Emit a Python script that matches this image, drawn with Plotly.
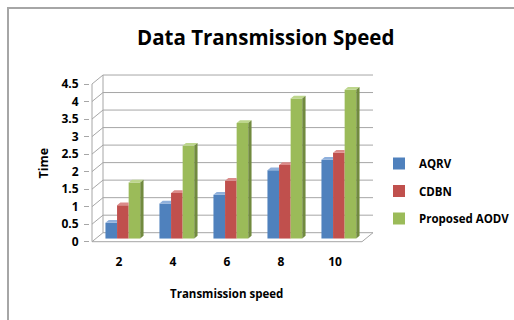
import plotly.graph_objects as go

# ---- data -------------------------------------------------------------
categories = ["2", "4", "6", "8", "10"]
series_names = ["AQRV", "CDBN", "Proposed AODV"]
aqrv = [0.45, 1.0, 1.25, 1.95, 2.25]
cdbn = [0.95, 1.3, 1.65, 2.1, 2.45]
proposed_aodv = [1.6, 2.65, 3.3, 4.0, 4.25]
y_ticks = [0, 0.5, 1, 1.5, 2, 2.5, 3, 3.5, 4, 4.5]
y_tick_labels = ["0", "0.5", "1", "1.5", "2", "2.5", "3", "3.5", "4", "4.5"]

series_values = [aqrv, cdbn, proposed_aodv]

# ---- styling ----------------------------------------------------------
front_colors = ["#4F81BD", "#C0504D", "#9BBB59"]
top_colors = ["#8FB0DC", "#DB8B89", "#BDD68C"]
side_colors = ["#3A6394", "#933C3A", "#718A3F"]
GRID = "#A6A6A6"
FONT = "Open Sans"

W, H = 514, 320
PX_PER_CAT = 54.0      # horizontal pixels per category
PX_PER_UNIT = 35.04    # vertical pixels per value unit
L, R, T, B = 90, 140, 73, 76
plot_w = W - L - R
plot_h = H - T - B
X0 = -0.5 - 2 / PX_PER_CAT
X1 = X0 + plot_w / PX_PER_CAT
ZERO_PX = 241.7
Y0 = -(H - B - ZERO_PX) / PX_PER_UNIT
Y1 = Y0 + plot_h / PX_PER_UNIT

# oblique depth of the 3-D box (data units)
DX = 11 / PX_PER_CAT
DY = 9 / PX_PER_UNIT
FRONT, BACK = 0.35, 0.65   # depth of the column front / back faces
BAR_W = 11.6 / PX_PER_CAT
GROUP_W = BAR_W * len(series_names)


def pxx(px):
    return (px - L) / plot_w


def pxy(py):
    return (H - B - py) / plot_h


n = len(categories)
xl, xr = -0.5, n - 0.5

# ---- walls, floor and gridlines ---------------------------------------
shapes = []


def wall_line(x0, y0, x1, y1):
    shapes.append(dict(type="line", xref="x", yref="y", x0=x0, y0=y0, x1=x1, y1=y1,
                       line=dict(color=GRID, width=1), layer="below"))


for t in y_ticks:
    wall_line(xl + DX, t + DY, xr + DX, t + DY)   # back wall
    wall_line(xl, t, xl + DX, t + DY)             # side wall
wall_line(xl + DX, DY, xl + DX, y_ticks[-1] + DY)  # back corner
wall_line(xl, 0, xl, y_ticks[-1])                  # front value axis
wall_line(xl, 0, xr, 0)                            # floor front edge
wall_line(xr, 0, xr + DX, DY)                      # floor right edge

# chart-area border
shapes.append(dict(type="rect", xref="paper", yref="paper",
                   x0=pxx(8), x1=pxx(530), y0=pxy(330), y1=pxy(8),
                   line=dict(color="#A6A6A6", width=2), fillcolor="rgba(0,0,0,0)"))

fig = go.Figure()

# ---- 3-D columns ------------------------------------------------------
last = len(series_names) - 1
for k, (name, vals) in enumerate(zip(series_names, series_values)):
    lefts = [i - GROUP_W / 2 + k * BAR_W for i in range(n)]
    fig.add_bar(
        x=[lft + BAR_W / 2 + FRONT * DX for lft in lefts],
        y=vals,
        base=[FRONT * DY] * n,
        width=BAR_W,
        name=name,
        legendgroup=name,
        marker=dict(color=front_colors[k], line=dict(width=0)),
    )

for k, (name, vals) in enumerate(zip(series_names, series_values)):
    lefts = [i - GROUP_W / 2 + k * BAR_W for i in range(n)]
    tx, ty, sx, sy = [], [], [], []
    for lft, v in zip(lefts, vals):
        xfl, xfr = lft + FRONT * DX, lft + BAR_W + FRONT * DX
        xbl, xbr = lft + BACK * DX, lft + BAR_W + BACK * DX
        yf, yb = v + FRONT * DY, v + BACK * DY
        if k == last:
            tx += [xfl, xfr, xbr, xbl, None]
            ty += [yf, yf, yb, yb, None]
            sx += [xfr, xbr, xbr, xfr, None]
            sy += [FRONT * DY, BACK * DY, yb, yf, None]
        else:
            # the part hidden behind the next column is left out
            tx += [xfl, xfr, xfr, xbl, None]
            ty += [yf, yf, yb, yb, None]
    fig.add_scatter(x=tx, y=ty, mode="lines", fill="toself", fillcolor=top_colors[k],
                    line=dict(width=0), showlegend=False, hoverinfo="skip")
    if sx:
        fig.add_scatter(x=sx, y=sy, mode="lines", fill="toself", fillcolor=side_colors[k],
                        line=dict(width=0), showlegend=False, hoverinfo="skip")

# ---- layout -----------------------------------------------------------
fig.update_layout(
    width=W, height=H,
    margin=dict(l=L, r=R, t=T, b=B, autoexpand=False),
    paper_bgcolor="white", plot_bgcolor="white",
    barmode="overlay",
    shapes=shapes,
    font=dict(family=FONT, color="#000000"),
    xaxis=dict(range=[X0, X1], tickvals=list(range(n)), ticktext=categories,
               showgrid=False, zeroline=False, showline=False, ticks="",
               tickfont=dict(size=12, weight=700), ticklabelstandoff=9),
    yaxis=dict(range=[Y0, Y1], tickvals=y_ticks, ticktext=y_tick_labels,
               showgrid=False, zeroline=False, showline=False,
               ticks="outside", ticklen=5, tickcolor=GRID, tickwidth=1,
               tickfont=dict(size=12, weight=700), ticklabelstandoff=3),
    legend=dict(xref="container", yref="container",
                x=379 / W, y=1 - 149 / H, xanchor="left", yanchor="top",
                font=dict(size=11.5, weight=700), tracegroupgap=8.5,
                bgcolor="rgba(0,0,0,0)", itemclick=False),
    annotations=[
        dict(text="Data Transmission Speed", xref="paper", yref="paper",
             x=pxx(265), y=pxy(37), xanchor="center", yanchor="middle",
             showarrow=False, font=dict(size=20.5, weight=700)),
        dict(text="Time", xref="paper", yref="paper", textangle=-90,
             x=pxx(42.5), y=pxy(163), xanchor="center", yanchor="middle",
             showarrow=False, font=dict(size=12.5, weight=700)),
        dict(text="Transmission speed", xref="paper", yref="paper",
             x=pxx(226), y=pxy(293), xanchor="center", yanchor="middle",
             showarrow=False, font=dict(size=11.5, weight=700)),
    ],
)

fig.write_html("out.html")
